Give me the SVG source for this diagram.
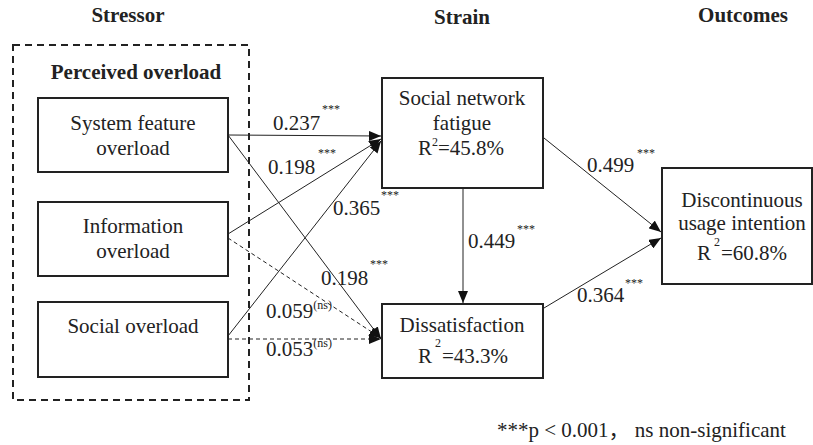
<svg xmlns="http://www.w3.org/2000/svg" width="813" height="445" viewBox="0 0 813 445" font-family="Liberation Serif, serif" style="font-family:'Liberation Serif',serif">
<style>
text{fill:#222;}
.h{font-size:21px;font-weight:bold;text-anchor:middle;}
.t{font-size:21px;text-anchor:middle;}
.l{font-size:21px;}
.s{font-size:12px;}
.box{fill:#fff;stroke:#222;stroke-width:2;}
.c{stroke:#222;stroke-width:1;fill:none;}
.d{stroke:#222;stroke-width:1;fill:none;stroke-dasharray:4,3;}
</style>
<defs>
<marker id="ah" markerUnits="userSpaceOnUse" markerWidth="12" markerHeight="10" refX="12" refY="5" orient="auto">
<path d="M0,0 L12,5 L0,10 z" fill="#111"/>
</marker>
</defs>
<text class="h" x="128" y="22">Stressor</text>
<text class="h" x="462" y="24">Strain</text>
<text class="h" x="743" y="22">Outcomes</text>
<g id="perceived-overload">
<rect x="13" y="45" width="236" height="355" fill="none" stroke="#222" stroke-width="2" stroke-dasharray="7,5"/>
<text class="h" x="136" y="79">Perceived overload</text>
</g>
<g id="system-feature-overload">
<rect class="box" x="38" y="98" width="190" height="74"/>
<text class="t" x="133" y="130">System feature</text>
<text class="t" x="133" y="155">overload</text>
</g>
<g id="information-overload">
<rect class="box" x="38" y="202" width="190" height="74"/>
<text class="t" x="133" y="233">Information</text>
<text class="t" x="133" y="258">overload</text>
</g>
<g id="social-overload">
<rect class="box" x="38" y="302" width="190" height="75"/>
<text class="t" x="133" y="333">Social overload</text>
</g>
<g id="social-network-fatigue">
<rect class="box" x="382" y="78" width="161" height="110"/>
<text class="t" x="462" y="105">Social network</text>
<text class="t" x="462" y="130">fatigue</text>
<text class="l" x="418" y="155">R<tspan class="s" dy="-9">2</tspan><tspan dy="9">=45.8%</tspan></text>
</g>
<g id="dissatisfaction">
<rect class="box" x="382" y="304" width="161" height="74"/>
<text class="t" x="462" y="332">Dissatisfaction</text>
<text class="l" x="418" y="363">R</text>
<text class="s" x="435" y="347">2</text>
<text class="l" x="442" y="363">=43.3%</text>
</g>
<g id="discontinuous-usage-intention">
<rect class="box" x="662" y="168" width="150" height="116"/>
<text class="t" x="742" y="207">Discontinuous</text>
<text class="t" x="742" y="230">usage intention</text>
<text class="l" x="697" y="260">R</text>
<text class="s" x="714" y="246">2</text>
<text class="l" x="721" y="260">=60.8%</text>
</g>
<g id="connectors">
<line class="c" x1="228" y1="135" x2="381" y2="136" marker-end="url(#ah)"/>
<line class="c" x1="228" y1="135" x2="381" y2="339" marker-end="url(#ah)"/>
<line class="c" x1="228" y1="234" x2="381" y2="139" marker-end="url(#ah)"/>
<line class="c" x1="228" y1="336" x2="381" y2="141" marker-end="url(#ah)"/>
<line class="d" x1="228" y1="238" x2="381" y2="338" marker-end="url(#ah)"/>
<line class="d" x1="228" y1="339" x2="381" y2="339" marker-end="url(#ah)"/>
<line class="c" x1="463" y1="188" x2="463" y2="303" marker-end="url(#ah)"/>
<line class="c" x1="544" y1="138" x2="661" y2="232" marker-end="url(#ah)"/>
<line class="c" x1="544" y1="308" x2="661" y2="238" marker-end="url(#ah)"/>
</g>
<g id="labels">
<text class="l" x="273" y="130">0.237</text><text class="s" x="322" y="113">***</text>
<text class="l" x="268" y="174">0.198</text><text class="s" x="318" y="157">***</text>
<text class="l" x="333" y="215">0.365</text><text class="s" x="381" y="199">***</text>
<text class="l" x="321" y="285">0.198</text><text class="s" x="370" y="268">***</text>
<text class="l" x="266" y="318">0.059<tspan class="s" dy="-9">(ns)</tspan></text>
<text class="l" x="266" y="356">0.053<tspan class="s" dy="-9">(ns)</tspan></text>
<text class="l" x="468" y="248">0.449</text><text class="s" x="517" y="233">***</text>
<text class="l" x="587" y="172">0.499</text><text class="s" x="637" y="157">***</text>
<text class="l" x="577" y="302">0.364</text><text class="s" x="625" y="287">***</text>
</g>
<text class="l" x="497" y="437" style="font-family:'Liberation Serif','Noto Sans CJK SC',serif">***p &lt; 0.001， ns non-significant</text>
</svg>
